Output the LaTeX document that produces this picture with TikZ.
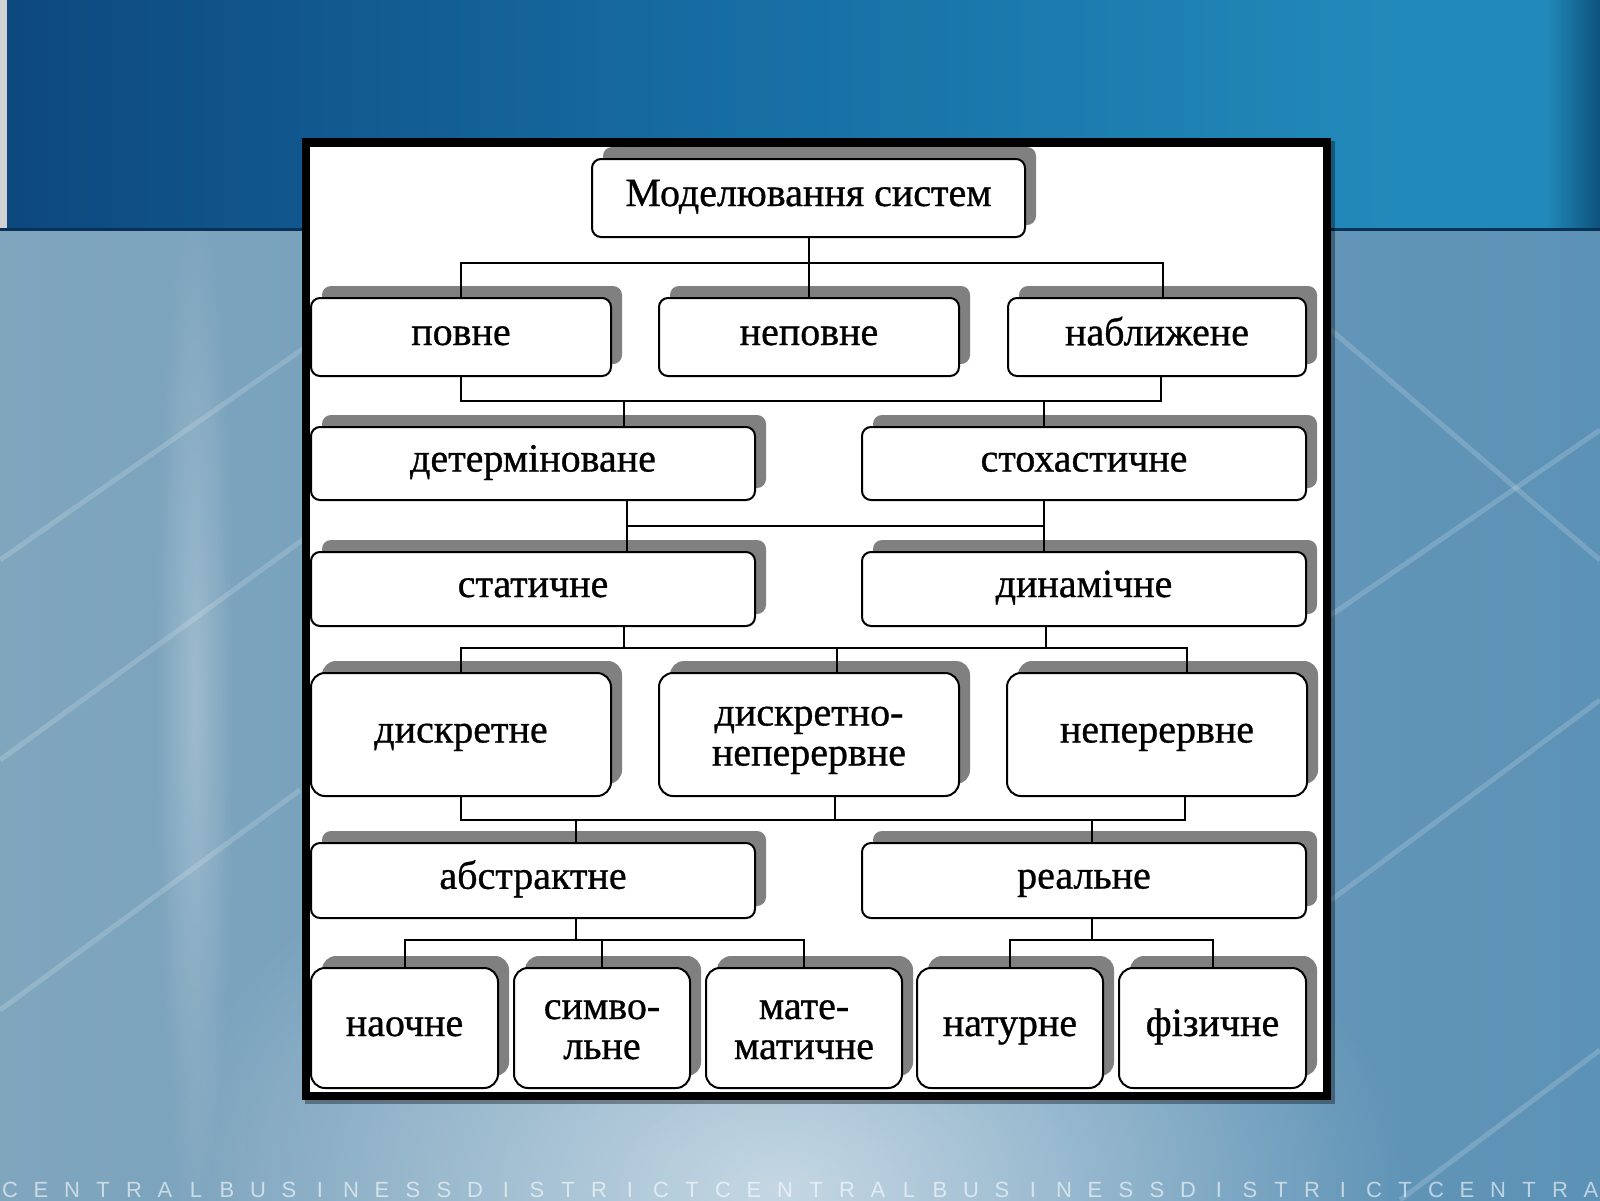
\documentclass[tikz,border=0pt]{standalone}
\usepackage{fontspec}
\setmainfont{Liberation Serif}
\newfontfamily\bgfont{Liberation Sans}
\usetikzlibrary{shadows,fadings,calc}
\newcommand\boxfont{\addfontfeature{FakeBold=0.8}\fontsize{40}{40}\selectfont}
\newcommand\tallstrut{\rule{0pt}{34pt}}
\definecolor{tbA}{RGB}{13,72,126}
\definecolor{tbB}{RGB}{22,108,162}
\definecolor{tbC}{RGB}{34,138,186}
\definecolor{tbD}{RGB}{14,82,124}
\definecolor{lowA}{RGB}{128,166,190}
\definecolor{lowB}{RGB}{150,184,203}
\definecolor{lowC}{RGB}{92,146,182}
\definecolor{shadowgray}{RGB}{128,128,128}
\tikzfading[name=glowfade, inner color=transparent!0, outer color=transparent!100]
\tikzset{
 box/.style={draw=black, line width=2pt, fill=white, rounded corners=9pt, inner sep=0pt,
   align=center, font=\boxfont, text=black,
   execute at begin node=\strut, execute at end node=\strut,
   drop shadow={shadow xshift=11pt, shadow yshift=12pt, fill=shadowgray, opacity=1}},
 tallbox/.style={box, rounded corners=14pt},
 conn/.style={draw=black, line width=2pt},
 bgletter/.style={anchor=base, font=\bgfont\fontsize{22}{22}\selectfont, text=white, text opacity=0.6, inner sep=0pt},
 glass/.style={draw=white, line width=5pt, opacity=0.17}
}
\begin{document}
\begin{tikzpicture}[x=1pt,y=-1pt]
\useasboundingbox (0,0) rectangle (1600,1200);
% ---------- background ----------
\fill[lowA] (0,0) rectangle (1600,1200);
\shade[left color=lowA, middle color=lowB, right color=lowC] (0,230) rectangle (1600,1200);
\fill[white, opacity=0.6, path fading=glowfade] (780,1190) ellipse [x radius=620pt, y radius=420pt];
\fill[white, opacity=0.25, path fading=glowfade] (195,700) ellipse [x radius=40pt, y radius=520pt];
\draw[glass] (0,760) -- (330,520);
\draw[glass] (0,560) -- (330,330);
\draw[glass] (0,1010) -- (300,790);
\draw[glass] (1331,615) -- (1600,430);
\draw[glass] (1331,900) -- (1600,700);
\draw[glass] (1400,1200) -- (1600,1050);
\draw[glass] (1331,330) -- (1600,560);
% top band
\shade[left color=tbA, right color=tbB] (0,0) rectangle (701,230);
\shade[left color=tbB, right color=tbC] (700,0) rectangle (1401,230);
\shade[left color=tbC, right color=tbC] (1400,0) rectangle (1546,230);
\shade[left color=tbC, right color=tbD] (1545,0) rectangle (1600,230);
\fill[gray!35] (0,0) rectangle (7,230);
\draw[line width=3pt, tbA!70!black] (0,229) -- (1600,229);
% bottom lettering
\foreach \ch [count=\k from 0] in {C,E,N,T,R,A,L,B,U,S,I,N,E,S,S,D,I,S,T,R,I,C,T,C,E,N,T,R,A,L,B,U,S,I,N,E,S,S,D,I,S,T,R,I,C,T,C,E,N,T,R,A}
  \node[bgletter] (bl\k) at ({10+31*\k},1197) {\ch};
% ---------- frame ----------
\fill[black, opacity=0.35] (305,141) rectangle (1335,1104);
\fill[black] (302,138) rectangle (1331,1100);
\fill[white] (310,147) rectangle (1323,1092);
% ---------- nodes ----------
\node[box, minimum width=433pt, minimum height=78pt] (top) at (808.5,198) {Моделювання систем};
\node[box, minimum width=300pt, minimum height=78pt] (p1) at (461,337) {повне};
\node[box, minimum width=300pt, minimum height=78pt] (p2) at (809,337) {неповне};
\node[box, minimum width=298pt, minimum height=78pt] (p3) at (1157,337) {наближене};
\node[box, minimum width=444pt, minimum height=73pt] (det) at (533,463.5) {детерміноване};
\node[box, minimum width=444pt, minimum height=73pt] (sto) at (1084,463.5) {стохастичне};
\node[box, minimum width=444pt, minimum height=74pt] (stat) at (533,589) {статичне};
\node[box, minimum width=444pt, minimum height=74pt] (dyn) at (1084,589) {динамічне};
\node[tallbox, minimum width=300pt, minimum height=123pt] (d1) at (461,734.5) {дискретне};
\node[tallbox, minimum width=300pt, minimum height=123pt] (d2) at (809,734.5) {\tallstrut дискретно-\\неперервне};
\node[tallbox, minimum width=300pt, minimum height=123pt] (d3) at (1157,734.5) {неперервне};
\node[box, minimum width=444pt, minimum height=75pt] (abs) at (533,880.5) {абстрактне};
\node[box, minimum width=444pt, minimum height=75pt] (real) at (1084,880.5) {реальне};
\node[tallbox, minimum width=187pt, minimum height=120pt] (n1) at (404.5,1028) {наочне};
\node[tallbox, minimum width=176pt, minimum height=120pt] (n2) at (602,1028) {\tallstrut симво-\\льне};
\node[tallbox, minimum width=196pt, minimum height=120pt] (n3) at (804,1028) {\tallstrut мате-\\матичне};
\node[tallbox, minimum width=186pt, minimum height=120pt] (n4) at (1010,1028) {натурне};
\node[tallbox, minimum width=187pt, minimum height=120pt] (n5) at (1212.5,1028) {фізичне};
% ---------- connectors ----------
\coordinate (j1) at (808,263);
\draw[conn] (top.south) -- (top.south |- p2.north);
\draw[conn] (p1.north) |- (j1) -| ([xshift=6pt]p3.north);
\coordinate (j2a) at (624,401);
\coordinate (j2b) at (1044,401);
\draw[conn] (p1.south) |- (j2a) -- (j2b) -| ([xshift=4pt]p3.south);
\draw[conn] (j2a) -- (j2a |- det.north);
\draw[conn] (j2b) -- (j2b |- sto.north);
\coordinate (j3a) at (627,526);
\coordinate (j3b) at (1044,526);
\draw[conn] (j3a |- det.south) -- (j3a |- stat.north);
\draw[conn] (j3b |- sto.south) -- (j3b |- dyn.north);
\draw[conn] (j3a) -- (j3b);
\coordinate (j4a) at (624,648);
\coordinate (j4b) at (1046,648);
\draw[conn] (j4a |- stat.south) -- (j4a);
\draw[conn] (j4b |- dyn.south) -- (j4b);
\draw[conn] (d1.north) |- (j4a) -- (j4b) -| ([xshift=30pt]d3.north);
\draw[conn] ([xshift=28pt]d2.north) -- ([xshift=28pt]d2.north |- j4a);
\coordinate (j5a) at (576,820);
\coordinate (j5b) at (1092,820);
\draw[conn] (d1.south) |- (j5a) -- (j5b) -| ([xshift=28pt]d3.south);
\draw[conn] ([xshift=26pt]d2.south) -- ([xshift=26pt]d2.south |- j5a);
\draw[conn] (j5a) -- (j5a |- abs.north);
\draw[conn] (j5b) -- (j5b |- real.north);
\coordinate (j6a) at (576,940);
\coordinate (j6b) at (1092,940);
\draw[conn] (j6a |- abs.south) -- (j6a);
\draw[conn] (n1.north) |- (j6a) -| (n3.north);
\draw[conn] (n2.north) -- (n2.north |- j6a);
\draw[conn] (j6b |- real.south) -- (j6b);
\draw[conn] (n4.north) |- (j6b) -| (n5.north);
\end{tikzpicture}
\end{document}
